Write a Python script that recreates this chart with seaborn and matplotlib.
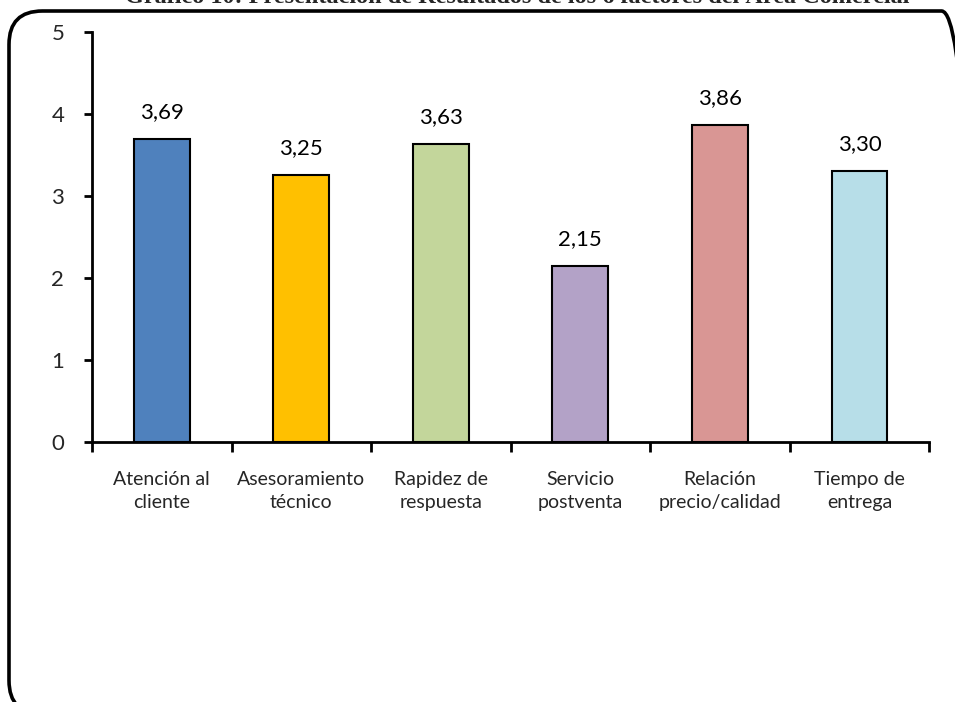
import matplotlib
matplotlib.use("Agg")
import matplotlib.pyplot as plt
from matplotlib.patches import FancyBboxPatch
from matplotlib.ticker import FixedLocator
import seaborn as sns
import pandas as pd

# Factor names (two-line labels) and mean scores
factores = [
    "Atención al\ncliente",
    "Asesoramiento\ntécnico",
    "Rapidez de\nrespuesta",
    "Servicio\npostventa",
    "Relación\nprecio/calidad",
    "Tiempo de\nentrega",
]
puntajes = [3.69, 3.25, 3.63, 2.15, 3.86, 3.30]
colores = ["#4F81BD", "#FFC000", "#C3D69B", "#B3A2C7", "#D99694", "#B7DEE8"]
titulo = "Gráfico 10: Presentación de Resultados de los 6 factores del Área Comercial"

df = pd.DataFrame({"factor": factores, "puntaje": puntajes})

sns.set_theme(style="white")
plt.rcParams["font.family"] = ["Lato", "DejaVu Sans"]

fig = plt.figure(figsize=(9.55, 7.02), dpi=100)
ax = fig.add_axes([0.0963, 0.3704, 0.973 - 0.0963, 0.9544 - 0.3704])

sns.barplot(
    data=df, x="factor", y="puntaje", hue="factor", palette=colores,
    saturation=1, width=0.4, edgecolor="black", linewidth=1.5,
    legend=False, ax=ax,
)

for i, v in enumerate(puntajes):
    ax.text(i, v + 0.33, f"{v:.2f}".replace(".", ","), ha="center",
            va="center", fontsize=16, color="black")

ax.set_xlim(-0.5, len(factores) - 0.5)
ax.set_ylim(0, 5)
ax.set_yticks([0, 1, 2, 3, 4, 5])
ax.set_xlabel("")
ax.set_ylabel("")

# Category labels sit between the boundary ticks
ax.tick_params(axis="x", which="major", length=0, pad=21, labelsize=14)
for lbl in ax.get_xticklabels():
    lbl.set_linespacing(1.45)
ax.xaxis.set_minor_locator(FixedLocator([i - 0.5 for i in range(len(factores) + 1)]))
ax.tick_params(axis="x", which="minor", length=7, width=2, color="black",
               direction="out", bottom=True)
ax.tick_params(axis="y", length=6, width=2, color="black", direction="out",
               left=True, labelsize=16, pad=14)

for s in ["top", "right"]:
    ax.spines[s].set_visible(False)
for s in ["left", "bottom"]:
    ax.spines[s].set_color("black")
    ax.spines[s].set_linewidth(2)

# Rounded frame around the chart area
W, H = 955, 702
frame = FancyBboxPatch(
    (9 / W, -12 / H), (975 - 9) / W, (H - 11 + 12) / H,
    boxstyle="round,pad=0,rounding_size=0.035",
    transform=fig.transFigure, fill=False, edgecolor="black", linewidth=2.6,
    clip_on=False, mutation_aspect=W / H,
)
fig.patches.append(frame)

fig.text(0.542, 1 - 3 / H, titulo, ha="center", va="baseline",
         fontsize=17.5, fontweight="bold", family=["Liberation Serif", "DejaVu Serif"])

fig.savefig("out.png", dpi=100)
